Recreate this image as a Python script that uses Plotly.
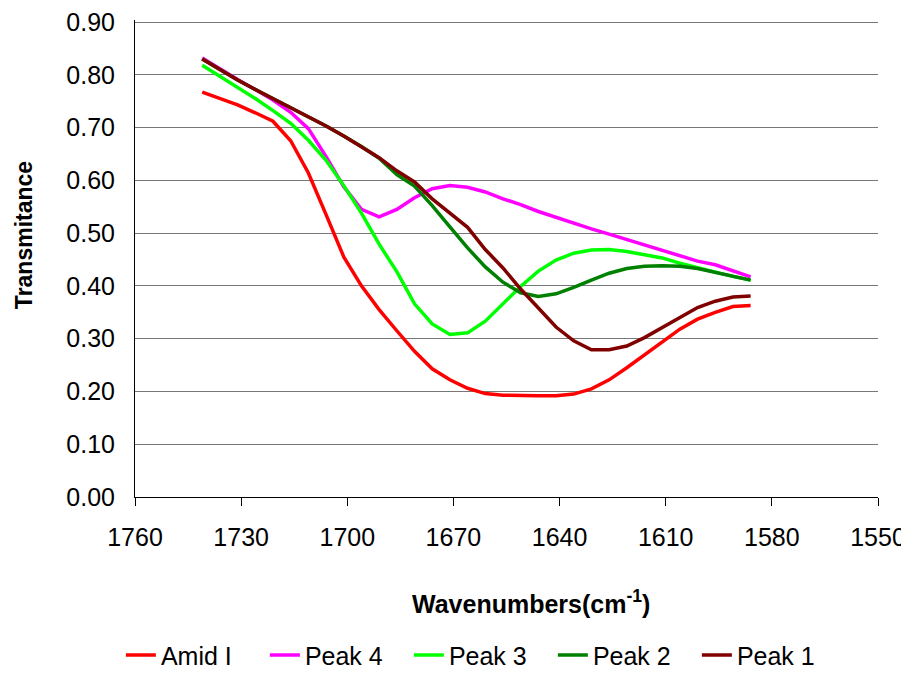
import plotly.graph_objects as go

wavenumbers = [1741, 1736, 1731, 1726, 1721, 1716, 1711, 1706, 1701, 1696, 1691, 1686,
               1681, 1676, 1671, 1666, 1661, 1656, 1651, 1646, 1641, 1636, 1631, 1626,
               1621, 1616, 1611, 1606, 1601, 1596, 1591, 1586]

amid_1 = [0.767, 0.755, 0.743, 0.728, 0.712, 0.675, 0.614, 0.535, 0.455, 0.400, 0.355, 0.315,
          0.276, 0.243, 0.222, 0.206, 0.196, 0.193, 0.192, 0.192, 0.192, 0.195, 0.205, 0.222,
          0.245, 0.270, 0.295, 0.318, 0.337, 0.350, 0.361, 0.363]

peak_4 = [0.832, 0.811, 0.791, 0.772, 0.752, 0.729, 0.698, 0.645, 0.588, 0.545, 0.531, 0.545,
          0.567, 0.584, 0.590, 0.587, 0.578, 0.565, 0.554, 0.541, 0.530, 0.518, 0.508, 0.498,
          0.488, 0.478, 0.467, 0.457, 0.447, 0.440, 0.428, 0.417]

peak_3 = [0.818, 0.797, 0.775, 0.755, 0.732, 0.708, 0.676, 0.638, 0.590, 0.538, 0.479, 0.427,
          0.366, 0.328, 0.308, 0.311, 0.333, 0.366, 0.399, 0.428, 0.449, 0.462, 0.468, 0.469,
          0.465, 0.459, 0.453, 0.443, 0.434, 0.426, 0.418, 0.411]

peak_2 = [0.830, 0.810, 0.790, 0.772, 0.755, 0.738, 0.720, 0.703, 0.684, 0.664, 0.642, 0.611,
          0.589, 0.552, 0.512, 0.472, 0.436, 0.407, 0.387, 0.380, 0.385, 0.397, 0.411, 0.424,
          0.433, 0.437, 0.438, 0.437, 0.433, 0.426, 0.418, 0.411]

peak_1 = [0.830, 0.810, 0.790, 0.772, 0.755, 0.738, 0.720, 0.703, 0.684, 0.664, 0.643, 0.618,
          0.597, 0.565, 0.538, 0.511, 0.469, 0.434, 0.394, 0.357, 0.322, 0.296, 0.279, 0.279,
          0.286, 0.302, 0.321, 0.341, 0.359, 0.371, 0.379, 0.381]

series = [
    ("Amid I", amid_1, "#FF0000"),
    ("Peak 4", peak_4, "#FF00FF"),
    ("Peak 3", peak_3, "#00FF00"),
    ("Peak 2", peak_2, "#008000"),
    ("Peak 1", peak_1, "#800000"),
]

x_ticks = [1760, 1730, 1700, 1670, 1640, 1610, 1580, 1550]
y_ticks = [0.0, 0.1, 0.2, 0.3, 0.4, 0.5, 0.6, 0.7, 0.8, 0.9]

FONT = "Arial, Liberation Sans, sans-serif"

fig = go.Figure()
for name, vals, color in series:
    fig.add_trace(go.Scatter(x=wavenumbers, y=vals, mode="lines", name=name,
                             line=dict(color=color, width=3.5)))

fig.update_layout(
    width=901, height=667,
    margin=dict(l=127, r=31, t=12, b=178, autoexpand=False),
    paper_bgcolor="white", plot_bgcolor="white",
    font=dict(family=FONT, size=25, color="black"),
    showlegend=True,
    legend=dict(orientation="h", x=-0.019, xanchor="left", y=-0.332, yanchor="middle",
                font=dict(family=FONT, size=25, color="black"),
                entrywidth=99, entrywidthmode="pixels", bgcolor="rgba(0,0,0,0)"),
    annotations=[
        dict(text="<b>Transmitance</b>", textangle=-90, xref="paper", yref="paper",
             x=-0.150, y=0.548, xanchor="center", yanchor="middle", showarrow=False,
             font=dict(family=FONT, size=23, color="black")),
        dict(text="<b>Wavenumbers(cm<sup>-1</sup>)</b>", xref="paper", yref="paper",
             x=0.533, y=-0.22, xanchor="center", yanchor="middle", showarrow=False,
             font=dict(family=FONT, size=25, color="black")),
    ],
)

fig.update_xaxes(range=[1760, 1550], tickvals=x_ticks, ticktext=[str(v) for v in x_ticks],
                 showgrid=False, zeroline=False, showline=True, linecolor="black", linewidth=1,
                 ticks="outside", ticklen=8, tickcolor="black", ticklabelstandoff=10,
                 automargin=False, ticklabeloverflow="allow",
                 tickfont=dict(family=FONT, size=25, color="black"))
fig.update_yaxes(range=[0, 0.9038], tickvals=y_ticks, ticktext=[f"{v:.2f}" for v in y_ticks],
                 showgrid=True, gridcolor="#777777", gridwidth=1, zeroline=False,
                 showline=True, linecolor="black", linewidth=1,
                 ticks="", ticklabelstandoff=14, automargin=False, ticklabeloverflow="allow",
                 tickfont=dict(family=FONT, size=25, color="black"))

fig.write_html("out.html")
